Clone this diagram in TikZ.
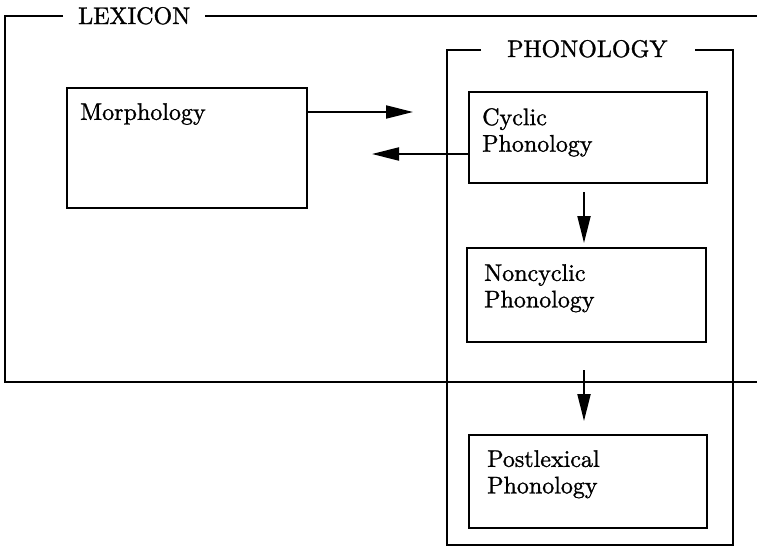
\documentclass[tikz,border=0pt]{standalone}
\usepackage{fontspec}
\setmainfont{lmroman10-regular}[Extension=.otf,FakeBold=1.2]
\usetikzlibrary{arrows.meta}
\begin{document}
\begin{tikzpicture}[x=1pt,y=-1pt,
  frame/.style={line width=2.3pt},
  box/.style={draw,line width=2.3pt,inner sep=0pt,outer sep=0pt,anchor=north west},
  txt/.style={inner sep=0pt,anchor=north west,align=left,font=\fontsize{24}{26.5}\selectfont},
  ttl/.style={inner sep=0pt,anchor=base west,font=\fontsize{24}{26.5}\selectfont},
  arr/.style={line width=2.1pt,-{Triangle[length=27pt,width=13pt]}}]
\useasboundingbox (0,0) rectangle (757,547);
% LEXICON frame
\node[ttl] (lex) at (78,24) {LEXICON};
\coordinate (lexTL) at (5,16);
\coordinate (lexBL) at (5,382);
\coordinate (lexBR) at (757,382);
\coordinate (lexTR) at (757,16);
\draw[frame] (63,16) -- (lexTL) -- (lexBL) -- (lexBR);
\draw[frame] (205,16) -- (lexTR);
% PHONOLOGY frame
\node[ttl] (pho) at (507,57) {PHONOLOGY};
\draw[frame] (481,50) -- (447,50) -- (447,545) -- (733,545) -- (733,50) -- (695,50);
% boxes
\node[box,minimum width=240pt,minimum height=120pt] (morph) at (67,88) {};
\node[txt] (morphT) at (80,103) {Morphology};
\node[box,minimum width=238pt,minimum height=91pt] (cyc) at (469,92) {};
\node[txt] (cycT) at (482,108) {Cyclic\\Phonology};
\node[box,minimum width=239pt,minimum height=94pt] (non) at (467,248) {};
\node[txt] (nonT) at (484,264) {Noncyclic\\Phonology};
\node[box,minimum width=238pt,minimum height=93pt] (post) at (469,435) {};
\node[txt] (postT) at (487,450) {Postlexical\\Phonology};
% arrows
\coordinate (a1e) at (413,112);
\coordinate (a2e) at (372,154);
\coordinate (a3s) at (584,192);
\coordinate (a3e) at (584,243);
\coordinate (a4s) at (584,370);
\coordinate (a4e) at (584,421);
\draw[arr] (morph.east |- a1e) -- (a1e);
\draw[arr] (cyc.west |- a2e) -- (a2e);
\draw[arr] (a3s) -- (a3e);
\draw[arr] (a4s) -- (a4e);
\end{tikzpicture}
\end{document}
